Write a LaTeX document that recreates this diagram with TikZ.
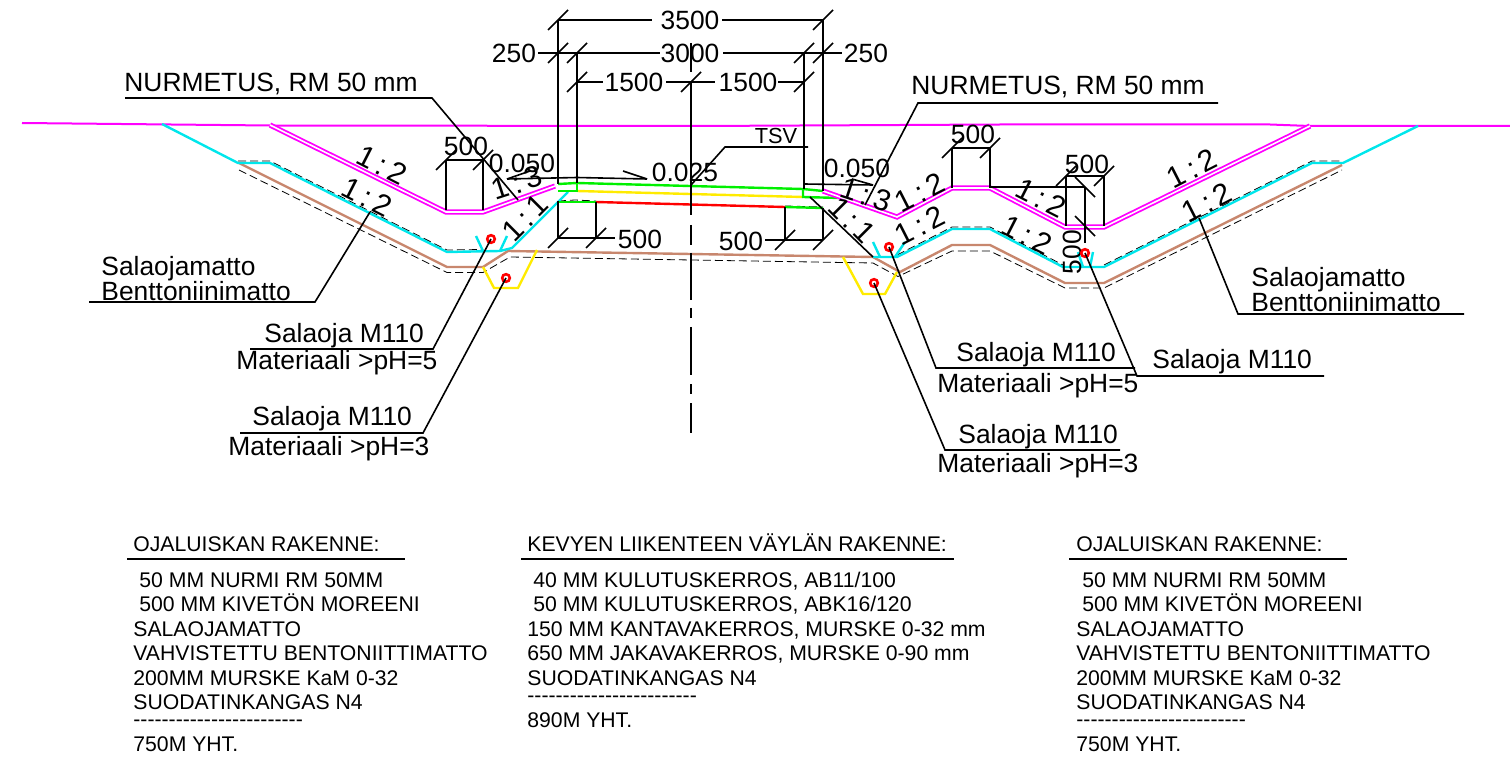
\documentclass[tikz,border=0pt]{standalone}
\usepackage{fontspec}
\setmainfont{Liberation Sans}

\definecolor{surface}{RGB}{255,0,255}
\definecolor{matto}{RGB}{0,230,235}
\definecolor{benton}{RGB}{200,135,110}
\definecolor{kerros}{RGB}{0,240,0}
\definecolor{jakava}{RGB}{255,235,0}
\definecolor{pinta}{RGB}{255,0,0}

\newcommand{\dashrow}{-{}-{}-{}-{}-{}-{}-{}-{}-{}-{}-{}-{}-{}-{}-{}-{}-{}-{}-{}-{}-{}-{}-{}-}

\tikzset{
  dimline/.style={black, line width=0.8pt},
  thinline/.style={black, line width=0.4pt, dash pattern=on 4pt off 2pt},
  layer/.style={line width=1.2pt},
  turf/.style={surface, line width=0.9pt, double=white, double distance=0.8pt},
  pipe/.style={circle, draw=pinta, line width=1.3pt, inner sep=0pt, minimum size=3.8pt},
  dimtext/.style={font=\fontsize{13.2}{15}\selectfont, inner sep=0pt},
  labeltext/.style={font=\fontsize{13.2}{15}\selectfont, inner sep=0pt, anchor=west},
  slopetext/.style={font=\fontsize{15}{17}\selectfont, inner sep=0pt},
  tabletext/.style={font=\fontsize{10.6}{12}\selectfont, inner sep=0pt, anchor=base west},
}

\begin{document}
\begin{tikzpicture}[x=0.5pt, y=-0.5pt]
\useasboundingbox (0, 0) rectangle (1510, 759);

% ground
\draw[surface, line width=1pt] (22, 123) -- (270, 125.5) -- (700, 126) -- (1000, 124.5) -- (1270, 124.5) -- (1310, 126) -- (1510, 126);

% thin lines
\draw[thinline] (239, 170) -- (447, 272.5) -- (483, 272.5) -- (510, 257) -- (873, 263) -- (898, 276.5) -- (952, 251) -- (990, 251) -- (1065, 288) -- (1104, 288) -- (1342, 170);
\draw[thinline] (238, 161) -- (270, 161) -- (447, 250) -- (483, 249.5);
\draw[thinline] (897, 255) -- (952, 227) -- (990, 227) -- (1063, 265);
\draw[thinline] (1104, 265) -- (1312, 161) -- (1343, 161);
\draw[thinline] (558, 201) -- (575, 200) -- (596, 201);
\draw[thinline] (785, 206) -- (823, 207);

% structure layers
\draw[layer, benton] (239, 163) -- (447, 267) -- (483, 267) -- (508, 251) -- (873, 257) -- (900, 272) -- (952, 245) -- (990, 245) -- (1065, 283) -- (1104, 283) -- (1342, 165);
\draw[layer, matto] (162, 124) -- (238, 163) -- (270, 163) -- (447, 252) -- (500, 251) -- (512, 248) -- (558, 202) -- (568, 192);
\draw[layer, matto] (873, 257) -- (897, 257) -- (952, 229) -- (990, 229) -- (1063, 267) -- (1104, 267) -- (1312, 163) -- (1343, 163) -- (1418, 126);
\draw[layer, jakava] (577, 191) -- (803, 197);
\draw[layer, pinta] (596, 202) -- (785, 207);
\draw[layer, kerros] (558, 184) -- (577, 183) -- (803, 189) -- (823, 191);
\draw[layer, kerros] (558, 191) -- (577, 191) -- (577, 183);
\draw[layer, kerros] (803, 189) -- (803, 197) -- (840, 198);
\draw[layer, kerros] (558, 202) -- (596, 202);
\draw[layer, kerros] (785, 207) -- (823, 208);
\draw[turf] (270, 125) -- (446, 212) -- (483, 212) -- (555, 186);
\draw[turf] (823, 191) -- (897, 217) -- (952, 188) -- (990, 188) -- (1065, 227) -- (1104, 227) -- (1310, 126);

% drains
\draw[layer, matto] (476, 236) -- (483, 251);
\draw[layer, matto] (507, 236) -- (500, 251);
\draw[layer, matto] (873, 242) -- (880, 257);
\draw[layer, matto] (905, 242) -- (895, 257);
\draw[layer, matto] (1078, 252) -- (1083, 267);
\draw[layer, matto] (1093, 252) -- (1090, 267);
\draw[layer, jakava] (483, 267) -- (494, 288) -- (518, 288) -- (537, 250);
\draw[layer, jakava] (843, 257) -- (863, 294) -- (885, 294) -- (897, 272);

% road edge
\draw[dimline] (810, 197) -- (873, 257);

% centre line
\draw[dimline] (691, 43) -- (691, 72);
\draw[dimline] (691, 82) -- (691, 215);
\draw[dimline] (691, 225) -- (691, 245);
\draw[dimline] (691, 253) -- (691, 300);
\draw[dimline] (691, 308) -- (691, 318);
\draw[dimline] (691, 327) -- (691, 375);
\draw[dimline] (691, 384) -- (691, 394);
\draw[dimline] (691, 403) -- (691, 433);

% top dimensions
\draw[dimline] (558, 20) -- (558, 184);
\draw[dimline] (577, 53) -- (577, 183);
\draw[dimline] (804, 53) -- (804, 189);
\draw[dimline] (823, 20) -- (823, 191);
\draw[dimline] (558, 20) -- (652, 20);
\draw[dimline] (722, 20) -- (823, 20);
\draw[dimline] (538, 53) -- (660, 53);
\draw[dimline] (723, 53) -- (842, 53);
\draw[dimline] (577, 82) -- (603, 82);
\draw[dimline] (666, 82) -- (715, 82);
\draw[dimline] (778, 82) -- (804, 82);

\draw[dimline] (548, 30) -- (568, 10);
\draw[dimline] (548, 63) -- (568, 43);
\draw[dimline] (567, 63) -- (587, 43);
\draw[dimline] (567, 92) -- (587, 72);
\draw[dimline] (681, 92) -- (701, 72);
\draw[dimline] (794, 92) -- (814, 72);
\draw[dimline] (794, 63) -- (814, 43);
\draw[dimline] (813, 63) -- (833, 43);
\draw[dimline] (813, 30) -- (833, 10);

\node[dimtext] (dimall) at (690, 20) {3500};
\node[dimtext] (dimroad) at (690, 53) {3000};
\node[dimtext] (dimedgeleft) at (514, 53) {250};
\node[dimtext] (dimedgeright) at (866, 53) {250};
\node[dimtext] (dimhalfleft) at (634, 82) {1500};
\node[dimtext] (dimhalfright) at (748, 82) {1500};

% lower dimensions
\draw[dimline] (558, 201) -- (558, 238);
\draw[dimline] (596, 202) -- (596, 238);
\draw[dimline] (558, 238) -- (615, 238);
\draw[dimline] (548, 248) -- (568, 228);
\draw[dimline] (586, 248) -- (606, 228);
\node[dimtext] (dimbaseleft) at (640, 239) {500};

\draw[dimline] (785, 207) -- (785, 240);
\draw[dimline] (823, 208) -- (823, 240);
\draw[dimline] (765, 240) -- (823, 240);
\draw[dimline] (775, 250) -- (795, 230);
\draw[dimline] (813, 250) -- (833, 230);
\node[dimtext] (dimbaseright) at (741, 241) {500};

% ditch dimensions
\draw[dimline] (446, 160) -- (446, 210);
\draw[dimline] (483, 160) -- (483, 210);
\draw[dimline] (446, 160) -- (483, 160);
\draw[dimline] (436, 170) -- (456, 150);
\draw[dimline] (473, 170) -- (493, 150);
\node[dimtext] (dimditchleft) at (466, 146) {500};

\draw[dimline] (952, 148) -- (952, 188);
\draw[dimline] (990, 148) -- (990, 188);
\draw[dimline] (952, 148) -- (990, 148);
\draw[dimline] (942, 158) -- (962, 138);
\draw[dimline] (980, 158) -- (1000, 138);
\node[dimtext] (dimbermright) at (973, 134) {500};

\draw[dimline] (1066, 176) -- (1066, 226);
\draw[dimline] (1104, 176) -- (1104, 226);
\draw[dimline] (1066, 176) -- (1104, 176);
\draw[dimline] (1056, 186) -- (1076, 166);
\draw[dimline] (1094, 186) -- (1114, 166);
\node[dimtext] (dimditchright) at (1087, 164) {500};

\draw[dimline] (990, 187) -- (1085, 187);
\draw[dimline] (1085, 187) -- (1085, 243);
\draw[dimline] (1075, 177) -- (1095, 197);
\draw[dimline] (1075, 216) -- (1095, 236);
\node[dimtext, rotate=90] (dimdepth) at (1072, 252) {500};

% falls
\draw[dimline] (507, 179) -- (577, 177.5) -- (647, 179);
\draw[dimline] (507, 179) -- (530, 171);
\draw[dimline] (647, 179) -- (623, 171);
\draw[dimline] (804, 184) -- (873, 185);
\draw[dimline] (873, 185) -- (852, 179);
\node[dimtext] (fallleft) at (522, 163) {0.050};
\node[dimtext] (fallroad) at (685, 172) {0.025};
\node[dimtext] (fallright) at (857, 168) {0.050};

\node[inner sep=0pt, font=\fontsize{10.9}{12}\selectfont] (tsv) at (776, 136) {TSV};
\draw[dimline] (808, 147) -- (725, 147) -- (691, 185);

% slopes
\node[slopetext, rotate=-27] (slopea) at (382, 165) {1\,:\,2};
\node[slopetext, rotate=-27] (slopeb) at (367, 197) {1\,:\,2};
\node[slopetext, rotate=18] (slopec) at (517, 183) {1\,:\,3};
\node[slopetext, rotate=45] (sloped) at (525, 218) {1\,:\,1};
\node[slopetext, rotate=-18] (slopee) at (866, 195) {1\,:\,3};
\node[slopetext, rotate=-45] (slopef) at (852, 220) {1\,:\,1};
\node[slopetext, rotate=27] (slopeg) at (920, 192) {1\,:\,2};
\node[slopetext, rotate=27] (slopeh) at (920, 225) {1\,:\,2};
\node[slopetext, rotate=-27] (slopei) at (1041, 198) {1\,:\,2};
\node[slopetext, rotate=-27] (slopej) at (1027, 235) {1\,:\,2};
\node[slopetext, rotate=27] (slopek) at (1192, 168) {1\,:\,2};
\node[slopetext, rotate=27] (slopel) at (1207, 202) {1\,:\,2};

% pipes
\node[pipe] (pipea) at (491, 239) {};
\node[pipe] (pipeb) at (506, 278) {};
\node[pipe] (pipec) at (889, 247) {};
\node[pipe] (piped) at (874, 283) {};
\node[pipe] (pipee) at (1085, 253) {};

% labels
\coordinate (turfleft) at (518, 200);
\coordinate (turfright) at (865, 205);
\coordinate (mattoleft) at (370, 212);
\coordinate (mattoright) at (1199, 218);

\node[labeltext] (nurmleft) at (124, 84) {NURMETUS, RM 50 mm};
\draw[dimline] (125, 98) -- (432, 98) -- (turfleft);
\node[labeltext] (nurmright) at (911, 87) {NURMETUS, RM 50 mm};
\draw[dimline] (1218, 103) -- (918, 103) -- (turfright);

\node[labeltext] (salleft) at (101, 269) {Salaojamatto};
\node[labeltext] (benleft) at (101, 291) {Benttoniinimatto};
\draw[dimline] (89, 302) -- (315, 302) -- (mattoleft);
\node[labeltext] (salright) at (1251, 280) {Salaojamatto};
\node[labeltext] (benright) at (1251, 302) {Benttoniinimatto};
\draw[dimline] (1464, 314) -- (1238, 314) -- (mattoright);

\node[labeltext] (draina) at (264, 336) {Salaoja M110};
\node[labeltext] (mata) at (236, 363) {Materiaali >pH=5};
\draw[dimline] (250, 349) -- (433, 349) -- (pipea.center);
\node[labeltext] (drainb) at (252, 419) {Salaoja M110};
\node[labeltext] (matb) at (228, 449) {Materiaali >pH=3};
\draw[dimline] (240, 433) -- (423, 433) -- (pipeb.center);
\node[labeltext] (drainc) at (956, 355) {Salaoja M110};
\node[labeltext] (matc) at (937, 386) {Materiaali >pH=5};
\draw[dimline] (1135, 368) -- (936, 368) -- (pipec.center);
\node[labeltext] (draind) at (958, 437) {Salaoja M110};
\node[labeltext] (matd) at (937, 466) {Materiaali >pH=3};
\draw[dimline] (1120, 450) -- (945, 450) -- (piped.center);
\node[labeltext] (draine) at (1152, 362) {Salaoja M110};
\draw[dimline] (1324, 376) -- (1137, 376) -- (pipee.center);

% left table
\node[tabletext] (lefthead) at (133, 551) {OJALUISKAN RAKENNE:};
\draw[dimline] (127, 559) -- (405, 559);
\node[tabletext] (lefta) at (139, 587) {50 MM NURMI RM 50MM};
\node[tabletext] (leftb) at (139, 611) {500 MM KIVETÖN MOREENI};
\node[tabletext] (leftc) at (133, 636) {SALAOJAMATTO};
\node[tabletext] (leftd) at (133, 660) {VAHVISTETTU BENTONIITTIMATTO};
\node[tabletext] (lefte) at (133, 685) {200MM MURSKE KaM 0-32};
\node[tabletext] (leftf) at (133, 709) {SUODATINKANGAS N4};
\node[tabletext] (leftg) at (133, 726) {\dashrow};
\node[tabletext] (lefth) at (133, 751) {750M YHT.};

% middle table
\node[tabletext] (midhead) at (527, 551) {KEVYEN LIIKENTEEN VÄYLÄN RAKENNE:};
\draw[dimline] (521, 559) -- (954, 559);
\node[tabletext] (mida) at (533, 587) {40 MM KULUTUSKERROS, AB11/100};
\node[tabletext] (midb) at (533, 611) {50 MM KULUTUSKERROS, ABK16/120};
\node[tabletext] (midc) at (527, 636) {150 MM KANTAVAKERROS, MURSKE 0-32 mm};
\node[tabletext] (midd) at (527, 660) {650 MM JAKAVAKERROS, MURSKE 0-90 mm};
\node[tabletext] (mide) at (527, 685) {SUODATINKANGAS N4};
\node[tabletext] (midf) at (527, 702) {\dashrow};
\node[tabletext] (midg) at (527, 727) {890M YHT.};

% right table
\node[tabletext] (righthead) at (1076, 551) {OJALUISKAN RAKENNE:};
\draw[dimline] (1069, 559) -- (1347, 559);
\node[tabletext] (righta) at (1082, 587) {50 MM NURMI RM 50MM};
\node[tabletext] (rightb) at (1082, 611) {500 MM KIVETÖN MOREENI};
\node[tabletext] (rightc) at (1076, 636) {SALAOJAMATTO};
\node[tabletext] (rightd) at (1076, 660) {VAHVISTETTU BENTONIITTIMATTO};
\node[tabletext] (righte) at (1076, 685) {200MM MURSKE KaM 0-32};
\node[tabletext] (rightf) at (1076, 709) {SUODATINKANGAS N4};
\node[tabletext] (rightg) at (1076, 726) {\dashrow};
\node[tabletext] (righth) at (1076, 751) {750M YHT.};

\end{tikzpicture}
\end{document}
